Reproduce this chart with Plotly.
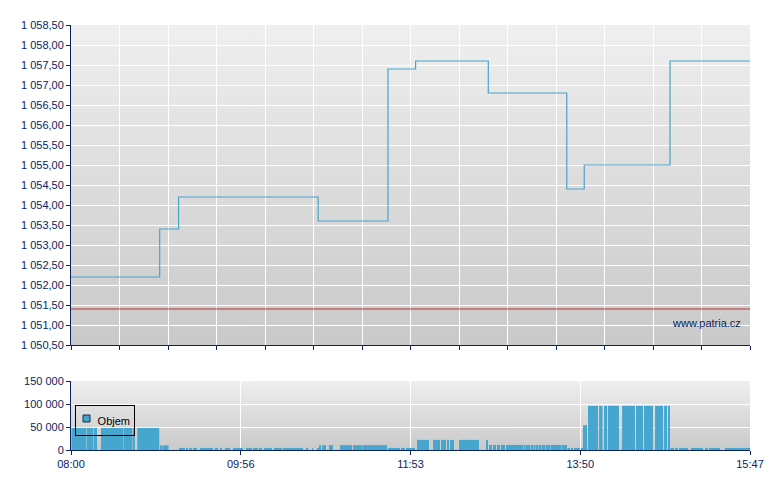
import base64
import pandas as pd
import plotly.graph_objects as go

# ---------------- data ----------------
DAY = "2024-01-02 "
session_start = "08:00"
session_end = "15:47"

price_times = ["08:00", "09:01", "09:14", "10:50", "11:38", "11:57",
               "12:47", "13:41", "13:53", "14:52", "15:47"]
price_values = [1052.2, 1053.4, 1054.2, 1053.6, 1057.4, 1057.6,
                1056.8, 1054.4, 1055.0, 1057.6, 1057.6]
prev_close = 1051.4

# volume blocks: start / end in minutes after 08:00, and volume
vol_start = [0.3, 10.7, 15.5, 20.6, 36.1, 42.6, 45.6,
             61.2, 62.9,
             74.3, 79.1, 81.2, 83.9, 88.7, 99.0, 102.5, 105.9, 111.4, 120.4, 125.2,
             129.3, 132.7, 139.6, 145.8, 161.6, 165.8, 169.2,
             170.6, 172.6, 177.4, 185.0, 194.0, 200.4,
             218.0, 227.0, 230.4,
             238.0, 249.0, 254.5, 258.6, 260.7, 262.7, 266.9, 279.9, 285.4,
             287.5, 290.2, 293.0, 295.7, 299.2, 311.2, 312.9, 314.7, 316.4, 318.1,
             319.8, 321.5, 323.9, 326.4, 329.8, 337.7,
             341.5, 343.9, 346.0, 350.8,
             352.8, 353.9,
             355.6, 363.2, 366.6, 369.3, 379.0, 388.6, 394.1, 401.7, 407.9, 410.6,
             412.3, 415.4, 418.2, 426.4, 436.1, 438.8, 449.8]
vol_end = [10.3, 15.1, 17.9, 35.8, 42.3, 44.0, 60.7,
           62.6, 67.1,
           78.4, 80.5, 83.2, 86.7, 97.7, 101.1, 103.9, 109.4, 118.3, 124.5, 128.6,
           131.4, 138.2, 145.1, 159.6, 163.0, 166.4, 169.9,
           171.9, 175.4, 180.2, 193.3, 200.1, 217.3,
           226.3, 229.7, 236.6,
           246.2, 253.8, 257.9, 260.0, 262.0, 263.4, 279.2, 280.6, 286.8,
           289.5, 292.3, 295.1, 298.5, 310.9, 312.6, 314.3, 316.0, 317.8, 319.5,
           321.2, 323.6, 326.0, 329.4, 337.4, 341.1,
           343.2, 345.3, 350.1, 352.1,
           353.5, 354.9,
           362.5, 365.6, 368.7, 376.9, 387.9, 393.4, 400.3, 407.2, 409.9, 412.0,
           414.7, 417.5, 424.4, 434.7, 438.1, 446.4, 467.0]
vol_values = [48000] * 7 + [10000] * 2 + [3700] * 18 + [10500] * 6 + [2300] * 3 + \
             [22000] * 9 + [11000] * 16 + [3500] * 4 + [54000] * 2 + [96000] * 10 + \
             [2600] * 7
vol_name = "Objem"

price_tickvals = [1050.5, 1051.0, 1051.5, 1052.0, 1052.5, 1053.0, 1053.5, 1054.0, 1054.5,
                  1055.0, 1055.5, 1056.0, 1056.5, 1057.0, 1057.5, 1058.0, 1058.5]
price_ticktext = ["1 050,50", "1 051,00", "1 051,50", "1 052,00", "1 052,50", "1 053,00",
                  "1 053,50", "1 054,00", "1 054,50", "1 055,00", "1 055,50", "1 056,00",
                  "1 056,50", "1 057,00", "1 057,50", "1 058,00", "1 058,50"]
vol_tickvals = [0, 50000, 100000, 150000]
vol_ticktext = ["0", "50 000", "100 000", "150 000"]
time_tickvals = ["08:00:00", "09:56:45", "11:53:30", "13:50:15", "15:47:00"]
time_ticktext = ["08:00", "09:56", "11:53", "13:50", "15:47"]

# ---------------- styling ----------------
NAVY = "#0B2361"
LINE = "#4AA3CD"
BAR = "#46A6CE"
FONT = "Liberation Sans, Arial, sans-serif"

t0 = pd.Timestamp(DAY + session_start)
t1 = pd.Timestamp(DAY + session_end)

px_t = [pd.Timestamp(DAY + t) for t in price_times]
v_s = [t0 + pd.Timedelta(minutes=m) for m in vol_start]
v_e = [t0 + pd.Timedelta(minutes=m) for m in vol_end]
v_mid = [a + (b - a) / 2 for a, b in zip(v_s, v_e)]
v_w = [(b - a).total_seconds() * 1000 for a, b in zip(v_s, v_e)]

fig = go.Figure()
fig.add_trace(go.Scatter(x=px_t, y=price_values, mode="lines", line_shape="hv",
                         line=dict(color=LINE, width=1.2), showlegend=False,
                         xaxis="x", yaxis="y", hoverinfo="skip"))
fig.add_trace(go.Bar(x=v_mid, y=vol_values, width=v_w, name=vol_name,
                     marker=dict(color=BAR, line=dict(width=0)),
                     xaxis="x2", yaxis="y2", showlegend=False))


def grad_uri(top, bottom):
    svg = ('<svg xmlns="http://www.w3.org/2000/svg" width="10" height="100" preserveAspectRatio="none">'
           '<defs><linearGradient id="g" x1="0" y1="0" x2="0" y2="1">'
           f'<stop offset="0" stop-color="{top}"/><stop offset="1" stop-color="{bottom}"/>'
           '</linearGradient></defs><rect width="10" height="100" fill="url(#g)"/></svg>')
    return "data:image/svg+xml;base64," + base64.b64encode(svg.encode()).decode()


H = 425.0
top_dom = [105 / H, 1.0]
bot_dom = [0.0, 69 / H]

fig.add_layout_image(source=grad_uri("#EFEFEF", "#C9C9C9"), xref="paper", yref="paper",
                     x=0, y=top_dom[1], sizex=1, sizey=top_dom[1] - top_dom[0],
                     xanchor="left", yanchor="top", sizing="stretch", layer="below")
fig.add_layout_image(source=grad_uri("#EFEFEF", "#C9C9C9"), xref="paper", yref="paper",
                     x=0, y=bot_dom[1], sizex=1, sizey=bot_dom[1] - bot_dom[0],
                     xanchor="left", yanchor="top", sizing="stretch", layer="below")

fig.add_shape(type="line", xref="x domain", yref="y", x0=0, x1=1, y0=prev_close, y1=prev_close,
              line=dict(color="#C03030", width=1))

fig.add_annotation(text="www.patria.cz", xref="x domain", yref="y domain", x=0.99, y=0.069,
                   xanchor="right", yanchor="middle", showarrow=False,
                   font=dict(family=FONT, size=11, color=NAVY))

# legend box (drawn as annotation + swatch for compactness)
fig.add_annotation(text=vol_name, xref="x2 domain", yref="y2 domain", x=0.0059, y=0.652,
                   xanchor="left", yanchor="top", showarrow=False, width=50, height=21,
                   align="right", valign="middle", borderpad=4,
                   bordercolor="#000000", borderwidth=1,
                   font=dict(family=FONT, size=11, color="#000000"))
fig.add_shape(type="rect", xref="x2 domain", yref="y2 domain",
              x0=0.0177, x1=0.0280, y0=0.406, y1=0.507,
              fillcolor=BAR, line=dict(color="#1A2A4A", width=1))

axis_common = dict(showline=True, linecolor=NAVY, linewidth=1, ticks="outside",
                   tickcolor=NAVY, ticklen=4, gridcolor="#FFFFFF", gridwidth=1,
                   zeroline=False, tickfont=dict(family=FONT, size=11, color=NAVY))

fig.update_layout(
    width=780, height=490,
    margin=dict(l=63, r=38, t=17, b=48),
    paper_bgcolor="white", plot_bgcolor="rgba(0,0,0,0)",
    font=dict(family=FONT, size=11, color=NAVY),
    xaxis=dict(domain=[0, 1], anchor="y", range=[t0, t1], type="date",
               tickmode="linear", tick0=t0, dtick=467 * 60000 / 14,
               showticklabels=False, **axis_common),
    yaxis=dict(domain=top_dom, anchor="x", range=[1050.5, 1058.5],
               tickmode="array", tickvals=price_tickvals, ticktext=price_ticktext,
               **axis_common),
    xaxis2=dict(domain=[0, 1], anchor="y2", range=[t0, t1], type="date",
                tickmode="array", tickvals=[pd.Timestamp(DAY + t) for t in time_tickvals],
                ticktext=time_ticktext, **axis_common),
    yaxis2=dict(domain=bot_dom, anchor="x2", range=[0, 150000],
                tickmode="array", tickvals=vol_tickvals, ticktext=vol_ticktext,
                **axis_common),
    showlegend=False,
)

fig.write_html("out.html")
